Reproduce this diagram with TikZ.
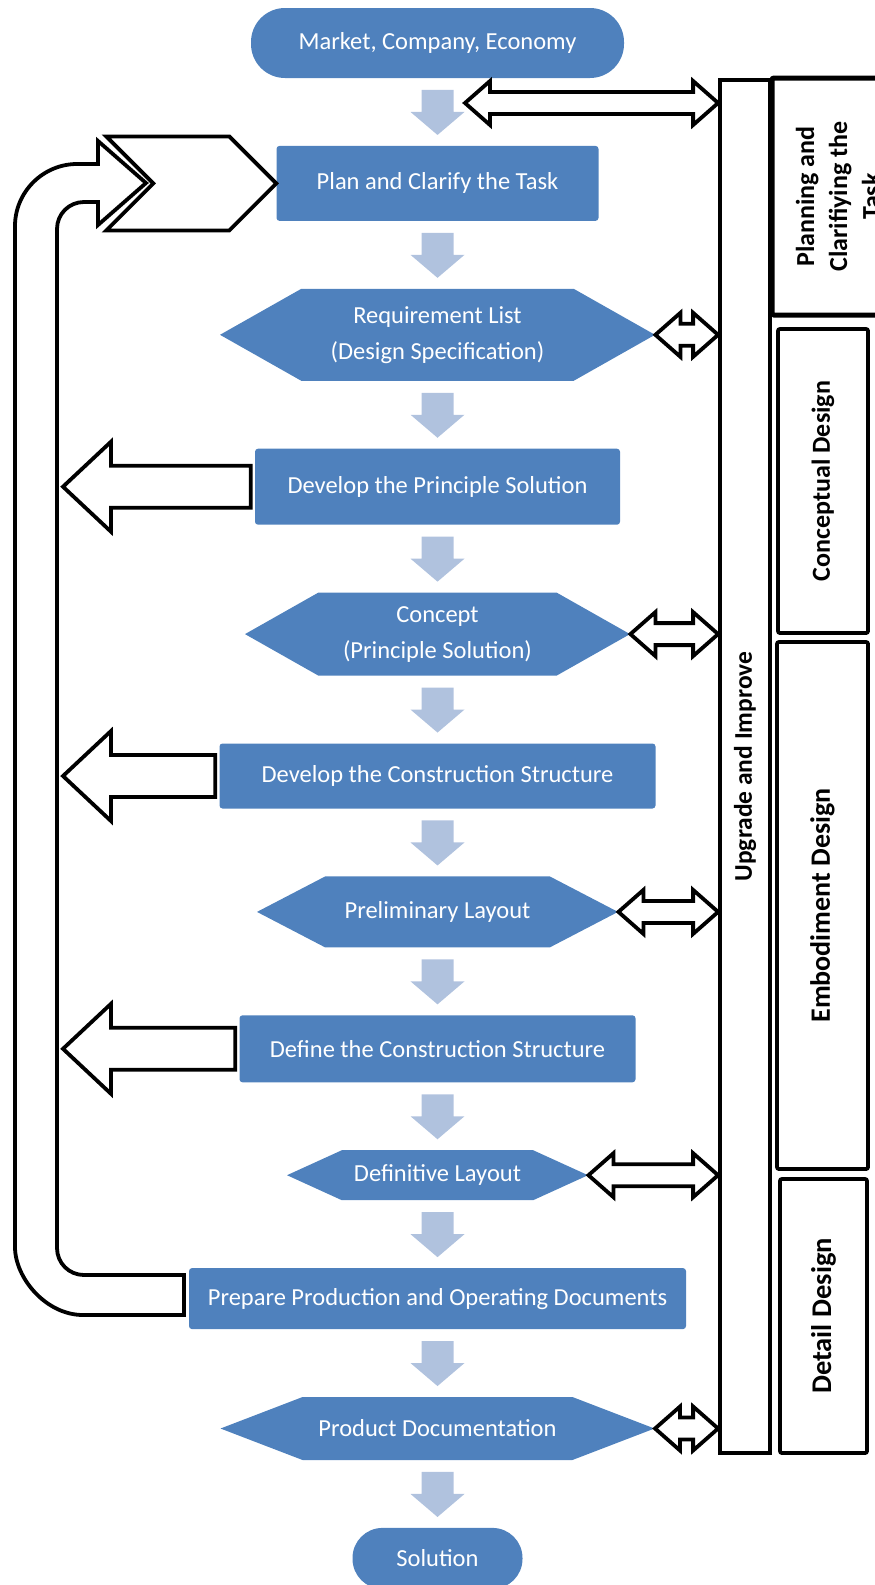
\documentclass[tikz,border=0pt]{standalone}
\usepackage{fontspec}
\setmainfont{Carlito}
\usetikzlibrary{calc, positioning, shapes.symbols}
\definecolor{stepblue}{RGB}{79,129,189}
\definecolor{flowblue}{RGB}{176,194,222}
\tikzset{
    stepbox/.style={rectangle, rounded corners=3pt, fill=stepblue, text=white,
        font=\fontsize{24.5}{36}\selectfont, align=center, inner sep=0pt},
    endbox/.style={stepbox, rounded corners=#1},
    resultbox/.style={stepbox, sharp corners, signal, signal to=west and east},
    stagebox/.style={draw, line width=3.8pt, rounded corners=2pt, rotate=90,
        font=\bfseries\fontsize{26}{33}\selectfont, align=center, inner sep=0pt},
    outline/.style={draw, fill=white, line width=3.8pt},
    flowarrow/.style={fill=flowblue, to path={
        ($(\tikztostart)!.5!(\tikztotarget)+(-16,-22)$) -- ++(32,0) -- ++(0,22)
        -- ++(11,0) -- ++(-27,23) -- ++(-27,-23) -- ++(11,0) -- cycle}},
    dblarrow/.style={outline, to path={
        -- ($(\tikztostart)+(25,-22)$) -- ($(\tikztostart)+(25,-11)$)
        -- ($(\tikztotarget)+(-25,-11)$) -- ($(\tikztotarget)+(-25,-22)$)
        -- (\tikztotarget) -- ($(\tikztotarget)+(-25,22)$)
        -- ($(\tikztotarget)+(-25,11)$) -- ($(\tikztostart)+(25,11)$)
        -- ($(\tikztostart)+(25,22)$) -- cycle}},
    backarrow/.style={outline, to path={
        ($(\tikztostart)+(0,-21)$) -- ($(\tikztotarget)+(48,-21)$)
        -- ($(\tikztotarget)+(48,-45)$) -- (\tikztotarget)
        -- ($(\tikztotarget)+(48,45)$) -- ($(\tikztotarget)+(48,21)$)
        -- ($(\tikztostart)+(0,21)$) -- cycle}},
}

\begin{document}
\begin{tikzpicture}[x=1pt, y=-1pt]
    \useasboundingbox (0,0) rectangle (875,1585);
    \coordinate (loopin) at (63,0);
    \coordinate (feed) at (465,103);

    % main column
    \node[endbox=34pt, minimum width=373, minimum height=70] (market)
        at (437.5,43) {Market, Company, Economy};
    \node[stepbox, minimum width=322, minimum height=75, below=67.5pt of market]
        (plan) {Plan and Clarify the Task};
    \node[resultbox, minimum width=435, minimum height=92,
        signal pointer angle=59, below=67.5pt of plan]
        (req) {Requirement List\\(Design Specification)};
    \node[stepbox, minimum width=365, minimum height=76, below=67.5pt of req]
        (devp) {Develop the Principle Solution};
    \node[resultbox, minimum width=385, minimum height=83,
        signal pointer angle=59, below=67.5pt of devp]
        (concept) {Concept\\(Principle Solution)};
    \node[stepbox, minimum width=436, minimum height=65, below=67.5pt of concept]
        (devc) {Develop the Construction Structure};
    \node[resultbox, minimum width=361, minimum height=71,
        signal pointer angle=55, below=67.5pt of devc]
        (prelim) {Preliminary Layout};
    \node[stepbox, minimum width=396, minimum height=67, below=67.5pt of prelim]
        (define) {Define the Construction Structure};
    \node[resultbox, minimum width=301, minimum height=50,
        signal pointer angle=49, below=67.5pt of define]
        (defin) {Definitive Layout};
    \node[stepbox, minimum width=497, minimum height=61, below=67.5pt of defin]
        (prep) {Prepare Production and Operating Documents};
    \node[resultbox, minimum width=434, minimum height=63,
        signal pointer angle=42, below=67.5pt of prep]
        (product) {Product Documentation};
    \node[endbox=30pt, minimum width=170, minimum height=61, below=67.5pt of product]
        (solution) {Solution};

    \foreach \src/\dst in {market/plan, plan/req, req/devp, devp/concept,
        concept/devc, devc/prelim, prelim/define, define/defin, defin/prep,
        prep/product, product/solution}
        \fill[flowarrow] (\src.south) to (\dst.north);

    % right side
    \node[draw, line width=3.8pt, minimum width=50, minimum height=1373,
        inner sep=0pt, font=\bfseries\fontsize{25.5}{30}\selectfont] (upgrade)
        at (745,766.5) {\rotatebox{90}{Upgrade and Improve}};
    \node[stagebox, line width=5pt, minimum width=237, minimum height=132]
        (planning) at (838,196.5) {Planning and\\Clarifiying the\\Task};
    \node[stagebox, minimum width=304, minimum height=90] (conceptual)
        at (823,481) {Conceptual Design};
    \node[stagebox, minimum width=527, minimum height=91,
        font=\bfseries\fontsize{28}{33}\selectfont] (embodiment)
        at (822.5,905.5) {Embodiment Design};
    \node[stagebox, minimum width=274, minimum height=87,
        font=\bfseries\fontsize{28.5}{33}\selectfont] (detail)
        at (823.5,1316) {Detail Design};

    \draw[dblarrow] (feed) to (feed -| upgrade.west);
    \foreach \n in {req, concept, prelim, defin, product}
        \draw[dblarrow] (\n.east) to (\n.east -| upgrade.west);

    % feedback loop
    \draw[outline] (184,1315) -- (83,1315) .. controls (46,1315) and (15,1278)
        .. (15,1247) -- (15,226) .. controls (15,192) and (43,164) .. (77,164)
        -- (98,164) -- (98,141) -- (146,183) -- (98,225) -- (98,202) -- (84,202)
        .. controls (69,202) and (57,214) .. (57,229) -- (57,1248)
        .. controls (57,1263) and (69,1275) .. (84,1275) -- (184,1275) -- cycle;
    \draw[outline] (plan.west) -- ++(-47,-47) -- ++(-123,0) -- ++(47,47)
        -- ++(-47,47) -- ++(123,0) -- cycle;
    \foreach \n in {devp, devc, define}
        \draw[backarrow] ([xshift=-4pt]\n.west) to (\n.west -| loopin);
\end{tikzpicture}
\end{document}
